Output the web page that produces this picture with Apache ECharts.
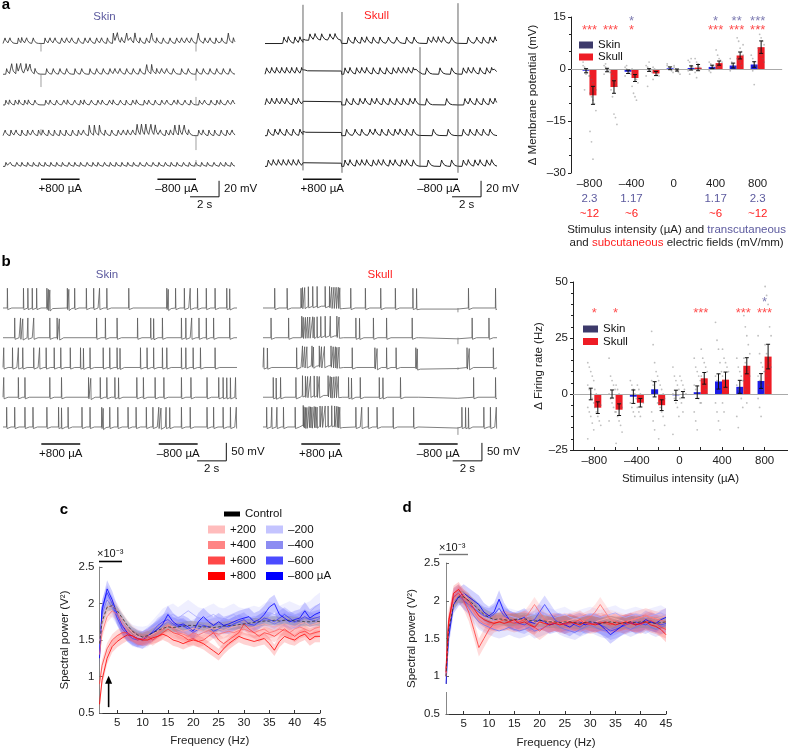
<!DOCTYPE html>
<html>
<head>
<meta charset="utf-8">
<script src="https://cdn.jsdelivr.net/npm/echarts@6.0.0/dist/echarts.min.js"></script>
<style>
html,body{margin:0;padding:0;background:#ffffff;}
#chart{width:788px;height:752px;}
</style>
</head>
<body>
<div id="chart"></div>
<script>
// ================= DATA =================
const STIM = [[2.62, 5.28], [10.65, 13.31]];            // s
const STIM_LABELS = ['+800 µA', '–800 µA'];

// Panel a: EPSP-like events (s) per row; [t, amp] for larger events
const A_SKIN_ROWS = [
  [0.14,0.48,1.06,1.29,1.63,2.09,2.9,3.24,3.59,4.05,4.39,4.74,5.2,5.66,6.0,6.46,6.8,7.2,[7.61,13],[7.89,13],8.18,[8.53,13],8.8,[9.1,13],9.45,9.9,[10.25,13],10.6,11.06,11.52,11.98,12.32,12.67,13.0,[13.47,13],13.93,14.28,14.69,15.08,[15.54,13],15.89],
  [0.25,[0.6,13],[0.94,13],[1.22,13],[1.59,13],[1.86,12],2.21,3.01,3.47,3.93,4.39,4.97,5.43,6.0,6.46,6.92,7.38,7.72,8.07,8.53,8.99,9.45,[9.91,12],[10.25,12],10.6,10.94,11.29,11.75,12.32,12.78,13.36,13.82,14.28,14.74,15.2,15.66],
  [0.2,0.45,0.85,1.1,1.5,1.75,2.2,2.95,3.25,3.7,4.2,4.45,4.95,5.35,5.6,6.1,6.55,6.85,7.35,7.6,8.1,8.5,8.95,9.2,9.75,10.05,10.5,10.95,11.3,11.8,12.05,12.55,12.95,13.55,13.9,14.35,14.75,15.0,15.5,15.85],
  [0.15,0.55,0.9,1.3,1.7,2.05,2.45,2.75,3.15,3.55,3.95,4.35,4.8,5.2,5.55,[5.95,13],[6.3,13],[6.65,13],7.05,7.5,7.95,8.3,8.6,8.95,[9.25,14],[9.55,14],[9.85,14],[10.2,14],[10.5,13],10.85,11.25,11.55,[11.85,13],[12.15,13],[12.5,13],12.8,13.5,13.8,14.2,14.6,15.05,15.45,15.8],
  [0.2,0.5,0.95,1.3,1.7,2.1,2.5,2.9,3.3,3.7,4.1,4.55,4.95,5.35,5.8,6.2,6.55,7.0,7.4,7.8,8.2,8.6,9.0,9.45,9.9,10.35,10.75,11.2,11.6,12.0,12.45,12.85,13.3,13.7,14.1,14.55,15.0,15.35,15.75]
];
const A_SKIN_AMP = [7, 7, 6, 7, 5];                      // mV
const A_SKIN_ARTIFACTS = [[0,2.62,-10],[0,13.31,-10],[1,2.62,-16],[1,13.31,-8],[2,13.31,10],[3,2.62,8],[3,13.31,-18],[4,13.31,8]];
const A_SKULL_ROWS = [
  [1.31,1.61,2.07,2.41,3.1,3.45,3.91,4.48,4.83,5.75,6.21,6.67,7.01,7.47,7.93,8.51,9.08,9.77,10.28,11.26,11.61,11.95,12.3,12.87,14.02,14.6,15.06,15.52,15.86],
  [0.11,0.46,0.8,1.15,1.49,1.84,2.18,2.53,5.52,5.86,6.32,6.67,7.01,7.47,7.93,8.39,8.85,9.2,9.54,9.89,10.23,10.46,11.15,12.07,12.87,13.68,14.02,14.37,14.83,15.29,15.63,15.86],
  [0.11,0.46,0.8,1.15,1.49,1.95,2.3,5.63,6.09,6.55,6.9,7.36,7.7,8.16,8.62,9.08,9.54,10.0,10.34,11.15,12.53,13.79,14.14,14.6,15.06,15.52,15.86],
  [0.23,0.69,1.03,1.49,1.95,2.41,5.63,6.21,6.67,7.24,7.59,8.05,8.51,8.97,9.31,9.77,10.23,11.61,12.64,13.68,14.14,14.6,15.06,15.52],
  [0.23,0.57,0.92,1.26,1.61,1.95,2.3,5.52,5.86,6.32,6.67,7.01,7.47,7.82,8.16,8.62,8.97,9.43,9.77,10.23,11.26,12.18,12.87,13.68,14.02,14.48,14.83,15.29,15.63]
];
const A_SKULL_AMP = 8;
const A_SKULL_SHIFT = [4, 0];                            // mV during +800 / –800
const A_SKULL_ARTIFACTS = [[2.62,-6,-213],[5.31,-15,-216],[10.69,-59,-209],[13.31,-4,-216]];

// Panel b: spike times (s) per row
const B_SKIN_SPIKES = [
  [0.3,1.4,1.7,2.0,2.3,3.0,3.1,3.2,4.4,4.5,4.9,5.7,6.2,6.6,7.1,8.6,11.2,11.3,11.8,12.4,12.8,13.3,13.9,14.5,15.3,15.5],
  [0.8,1.2,1.35,1.7,2.1,3.2,3.7,3.85,6.4,7.0,7.8,9.2,10.1,10.3,10.9,12.2,12.5,12.9,13.4,13.9,14.4,15.5],
  [0.05,0.65,1.05,1.35,2.1,2.5,2.95,3.5,3.95,4.6,5.3,5.5,5.95,6.85,7.3,7.8,8.0,9.4,9.85,10.3,10.9,11.2,12.2,12.5,13.0,13.5,14.5],
  [0.05,1.05,1.5,3.2,4.0,5.85,6.0,6.65,7.1,7.65,7.9,9.15,9.6,10.4,11.0,12.2,12.85,13.95,14.75,15.05,15.3,15.55,15.9],
  [0.25,0.8,1.5,2.05,3.0,3.8,4.0,4.45,5.4,5.95,6.75,6.85,7.3,7.85,8.55,9.1,9.8,10.25,10.65,10.8,11.15,11.4,12.2,12.8,13.95,14.4,15.05,15.55,15.95]
];
const B_SKULL_SPIKES = [
  [0.8,1.65,2.6,2.7,2.85,3.1,3.4,3.7,4.25,4.55,4.7,4.85,5.0,5.15,5.25,6.0,7.0,8.05,9.05,10.25,10.5,14.05,15.9],
  [0.55,1.75,2.65,2.75,2.9,3.05,3.2,3.4,3.5,3.7,3.95,4.25,4.6,5.05,5.2,6.35,6.6,7.55,8.45,10.2,14.3,15.45],
  [0.05,0.3,2.3,2.7,2.85,3.0,3.35,3.45,3.85,4.0,4.2,4.65,4.8,4.95,5.05,5.2,6.1,7.65,7.8,8.45,9.1,10.45,10.55,13.95,14.1,15.75],
  [0.7,0.9,1.2,2.25,2.7,2.9,3.05,3.25,3.5,3.7,3.85,4.45,4.6,4.7,4.85,5.0,5.15,5.85,6.05,6.65,7.95,8.2,9.4,14.4,15.9],
  [0.25,0.6,0.95,1.4,2.2,2.75,2.8,2.9,3.0,3.15,3.25,3.35,3.5,3.6,3.7,3.9,4.05,4.25,4.45,4.7,4.9,5.05,5.15,5.25,6.35,6.75,7.2,7.8,8.9,10.3,13.6,13.85,14.05,15.1,15.55,15.95]
];
const B_SPIKE_HEIGHT = 55;                               // mV
const B_SKULL_SHIFT = [5, -3];
const B_SKULL_ARTIFACTS = [[0,13.33,-12],[1,13.33,-18],[2,13.33,-6],[4,13.33,-22]];

// Bar charts
const CATS = [-800,-600,-400,-200,0,200,400,600,800];
const A_SKIN_MEAN  = [-0.5,-0.3,-0.8,-0.3,0.2,0.3,0.6,1.0,1.3];
const A_SKIN_ERR   = [0.6,0.5,0.5,0.4,0.4,0.6,0.5,0.7,0.8];
const A_SKULL_MEAN = [-7.6,-5.2,-2.6,-1.3,-0.3,0.4,1.7,3.9,6.3];
const A_SKULL_ERR  = [2.6,1.8,1.0,0.6,0.3,0.9,0.6,1.0,1.8];
const A_DOTS_SKIN = [[1,0.5,-0.5,-1,-2,2,-6,-1.5,0],[1,0.5,0,-0.5,-1,-1.5,1.5],[0.5,0,-0.5,-1,-1.5,-2,1],[1,0.5,0,-0.5,-1,-2,-5,2],[1,0.5,0,-0.5,-1,1.5],[2.5,2,1,0.5,0,-0.5,-1.5,3],[2,1.5,1,0.5,0,-0.5,-1],[3,2,1,0.5,0,-0.5,1.5],[4,3,2,1,0.5,0,-0.5,-4.5]];
const A_DOTS_SKULL = [[-2,-3,-4,-5,-6,-7,-8,-9,-10,-12,-18,-21,-26],[-1,-2,-3,-4,-5,-6,-8,-13,-14,-16],[0,-1,-2,-3,-4,-5,-7,-8,-9],[0.5,0,-1,-1.5,-2,-3,-0.5],[0.5,0,-0.5,-1,-1.5,1],[3,2,1,0.5,0,-1,-2.5,1.5],[5.5,4,3,2.5,2,1,0.5,0],[9,8,6,5,4,3,2.5,2,1,7],[12,10,9,8,7,6,5,4,3,2,0]];
const A_STARS_SKIN  = ['','','*','','','','*','**','***'];
const A_STARS_SKULL = ['***','***','*','','','','***','***','***'];
const FIELD_TICKS = [-800,-400,0,400,800];
const FIELD_TRANS = ['2.3','1.17','','1.17','2.3'];
const FIELD_SUB   = ['~12','~6','','~6','~12'];

const B_SKIN_MEAN  = [0,0,-1.2,2.1,-0.6,0.8,5.6,3.2,5.8];
const B_SKIN_ERR   = [2.6,1.8,3.0,3.4,2.3,2.8,3.4,2.9,3.3];
const B_SKULL_MEAN = [-6.1,-7.0,-3.9,-5.0,-0.3,7.0,6.4,12.6,16.7];
const B_SKULL_ERR  = [2.6,2.6,1.9,2.4,1.4,2.6,3.4,3.6,5.5];
const B_DOTS_SKIN = [[14,12,10,8,6,4,2,0,-2,-4,-6,-8,-10,-13,-16,-20],[16,8,6,4,2,0,-2,-4,-6,-8,-12],[6,4,2,0,-2,-4,-6,-8,-10],[28,22,14,10,8,6,4,2,0,-4,-8,-12,-16],[12,8,6,4,2,0,-2,-4,-6,-10,-18],[16,12,10,8,6,4,2,0,-2,-4,-8,-12,-16],[32,24,20,14,10,8,6,4,2,0,-4,-8,-12,-16],[16,12,10,8,6,4,2,0,-2,-6,-10,-15],[26,18,14,12,10,8,6,4,2,0,-2,-6,-10]];
const B_DOTS_SKULL = [[2,0,-2,-4,-5,-6,-8,-10,-12,-14],[4,2,0,-4,-6,-8,-10,-12,-14,-17,-22],[4,2,0,-2,-4,-6,-8,-10],[6,4,2,0,-2,-4,-6,-8,-10,-14,-20],[8,6,4,2,0,-2,-4,-8],[20,16,14,12,10,8,6,4,2,0,-4],[20,16,14,12,10,8,6,4,2,0,-4,-8],[35,30,26,22,18,16,14,12,10,8,6,2,-4],[48,44,40,30,26,22,18,16,14,12,10,8,4]];
const B_STARS_SKIN  = ['','','','','','','','','*'];
const B_STARS_SKULL = ['*','*','','','','***','','***','***'];
const B_TICKS = [-800,-400,0,400,800];

// Spectral power (×10^-3 V²)
const FREQ = [1.5,2,3,4,5,6,7,8,9,10,11,12,13,14,15,16,17,18,19,20,21,22,23,24,25,26,27,28,29,30,31,32,33,34,35,36,37,38,39,40,41,42,43,44,45];
const COND_NAMES = ['Control','+200','+400','+600','+800','–200','–400','–600','–800 µA'];
const C_CTRL = [1.45,1.75,1.95,1.97,1.9,1.8,1.7,1.62,1.57,1.54, 1.56,1.6,1.63,1.66,1.68,1.67,1.68,1.69,1.7,1.7, 1.69,1.68,1.68,1.67,1.68,1.69,1.7,1.7,1.71,1.72, 1.73,1.74,1.75,1.76,1.76,1.77,1.76,1.77,1.77,1.76, 1.76,1.75,1.75,1.76,1.75];
const C_P200 = [1.45,1.75,1.95,1.97,1.9,1.78,1.68,1.6,1.55,1.52, 1.55,1.58,1.62,1.66,1.7,1.68,1.65,1.62,1.64,1.66, 1.64,1.62,1.65,1.67,1.65,1.63,1.66,1.68,1.7,1.68, 1.66,1.68,1.7,1.72,1.7,1.68,1.7,1.72,1.7,1.68, 1.72,1.74,1.7,1.72,1.74];
const C_P400 = [1.3,1.6,1.82,1.9,1.85,1.72,1.62,1.55,1.52,1.5, 1.52,1.56,1.6,1.65,1.7,1.66,1.6,1.58,1.55,1.6, 1.57,1.6,1.63,1.6,1.58,1.6,1.62,1.6,1.63,1.65, 1.62,1.6,1.63,1.65,1.6,1.62,1.65,1.63,1.6,1.65, 1.68,1.65,1.62,1.66,1.68];
const C_P600 = [0.9,1.15,1.38,1.5,1.56,1.6,1.6,1.55,1.5,1.52, 1.55,1.5,1.55,1.6,1.65,1.6,1.58,1.55,1.5,1.52, 1.48,1.5,1.55,1.6,1.5,1.45,1.5,1.55,1.6,1.72, 1.65,1.6,1.55,1.6,1.58,1.55,1.6,1.65,1.6,1.55, 1.6,1.62,1.58,1.6,1.62];
const C_P800 = [0.62,0.95,1.25,1.41,1.48,1.53,1.57,1.56,1.52,1.5, 1.5,1.53,1.55,1.58,1.55,1.5,1.48,1.45,1.48,1.5, 1.48,1.45,1.4,1.35,1.3,1.38,1.45,1.5,1.55,1.52, 1.5,1.48,1.5,1.52,1.45,1.36,1.48,1.55,1.52,1.5, 1.55,1.58,1.5,1.55,1.55];
const C_M200 = [1.4,1.8,2.0,1.95,1.85,1.72,1.62,1.56,1.54,1.53, 1.55,1.62,1.7,1.78,1.82,1.85,1.8,1.85,1.9,1.85, 1.8,1.78,1.82,1.85,1.8,1.78,1.82,1.85,1.8,1.78, 1.8,1.82,1.8,1.85,1.88,1.85,1.82,1.85,1.88,1.85, 1.82,1.85,1.88,1.95,2.0];
const C_M400 = [1.35,1.85,2.05,1.95,1.8,1.68,1.6,1.55,1.52,1.52, 1.55,1.6,1.65,1.7,1.75,1.7,1.72,1.68,1.65,1.68, 1.72,1.7,1.68,1.7,1.72,1.7,1.68,1.72,1.75,1.72, 1.7,1.72,1.75,1.78,1.75,1.72,1.75,1.78,1.76,1.74, 1.76,1.8,1.78,1.76,1.8];
const C_M600 = [1.3,1.95,2.15,2.0,1.8,1.65,1.58,1.52,1.5,1.52, 1.55,1.62,1.7,1.75,1.78,1.72,1.68,1.7,1.65,1.6, 1.65,1.7,1.68,1.62,1.65,1.7,1.68,1.72,1.75,1.78, 1.72,1.7,1.75,1.8,1.78,1.75,1.8,1.85,1.8,1.75, 1.78,1.82,1.78,1.8,1.82];
const C_M800 = [1.25,1.9,2.2,2.05,1.85,1.7,1.6,1.55,1.52,1.5, 1.55,1.6,1.65,1.72,1.85,1.75,1.7,1.72,1.68,1.62, 1.75,1.82,1.75,1.7,1.75,1.7,1.72,1.75,1.78,1.8, 1.82,1.75,1.78,1.85,1.95,2.0,1.85,1.8,1.75,1.78, 1.8,1.9,1.8,1.85,1.88];
const C_SEM = [0.06,0.1,0.08,0.08,0.08,0.15,0.1,0.1,0.12];

const D_CTRL = [1.0,1.6,1.95,2.05,2.05,2.0,1.95,1.88,1.82,1.78, 1.75,1.76,1.75,1.74,1.75,1.76,1.76,1.74,1.73,1.74, 1.73,1.72,1.72,1.71,1.72,1.72,1.71,1.7,1.71,1.72, 1.71,1.7,1.71,1.72,1.71,1.7,1.71,1.72,1.71,1.72, 1.72,1.71,1.7,1.71,1.72];
const D_P200 = [1.0,1.65,2.0,2.1,2.1,2.0,1.9,1.82,1.78,1.75, 1.72,1.74,1.76,1.74,1.72,1.74,1.76,1.74,1.72,1.7, 1.72,1.74,1.72,1.7,1.72,1.74,1.76,1.74,1.72,1.7, 1.72,1.74,1.76,1.78,1.76,1.74,1.72,1.74,1.76,1.78, 1.8,1.78,1.76,1.78,1.8];
const D_P400 = [1.0,1.65,2.0,2.1,2.05,1.95,1.85,1.75,1.7,1.68, 1.72,1.75,1.78,1.75,1.72,1.74,1.76,1.85,1.95,1.85, 1.75,1.72,1.7,1.72,1.74,1.72,1.7,1.72,1.75,1.78, 1.85,1.95,1.85,1.75,1.72,1.7,1.72,1.74,1.76,1.78, 1.8,1.78,1.76,1.74,1.72];
const D_P600 = [1.1,1.75,2.05,2.1,2.0,1.85,1.62,1.38,1.5,1.62, 1.7,1.72,1.75,1.72,1.7,1.72,1.75,1.7,1.65,1.6, 1.65,1.7,1.72,1.7,1.68,1.7,1.72,1.75,1.7,1.68, 1.7,1.72,1.7,1.68,1.72,1.7,1.68,1.72,1.7,1.68, 1.72,1.74,1.7,1.65,1.62];
const D_P800 = [1.05,1.7,2.1,2.15,2.05,2.0,1.9,1.8,1.75,1.72, 1.7,1.72,1.7,1.72,1.75,1.7,1.72,1.68,1.65,1.72, 1.7,1.68,1.7,1.68,1.7,1.72,1.7,1.68,1.72,1.7, 1.68,1.7,1.72,1.7,1.68,1.7,1.72,1.7,1.68,1.7, 1.72,1.68,1.66,1.62,1.55];
const D_M200 = [1.1,1.7,2.05,2.1,2.05,2.0,1.92,1.85,1.8,1.76, 1.74,1.75,1.78,1.8,1.78,1.76,1.78,1.8,1.82,1.85, 1.82,1.8,1.78,1.8,1.82,1.78,1.76,1.78,1.8,1.82, 1.8,1.78,1.8,1.82,1.84,1.8,1.78,1.8,1.82,1.8, 1.78,1.8,1.82,1.84,1.8];
const D_M400 = [1.05,1.65,2.0,2.05,2.0,1.9,1.8,1.72,1.68,1.65, 1.62,1.6,1.62,1.65,1.62,1.6,1.62,1.65,1.6,1.62, 1.65,1.68,1.7,1.65,1.62,1.6,1.58,1.62,1.65,1.68, 1.65,1.62,1.6,1.62,1.65,1.68,1.65,1.62,1.65,1.68, 1.7,1.65,1.62,1.65,1.68];
const D_M600 = [1.0,1.6,2.05,2.1,2.0,1.95,1.9,1.85,1.8,1.78, 1.82,1.9,1.8,1.75,1.72,1.7,1.68,1.72,1.75,1.85, 1.95,1.85,1.75,1.7,1.68,1.72,1.68,1.65,1.7,1.72, 1.7,1.68,1.65,1.6,1.62,1.65,1.68,1.7,1.72,1.7, 1.68,1.72,1.7,1.68,1.7];
const D_M800 = [0.9,1.5,1.95,2.05,2.1,2.05,2.0,1.95,1.85,1.8, 1.85,2.02,1.85,1.75,1.72,1.75,1.78,1.72,1.7,1.75, 1.72,1.68,1.7,1.72,1.68,1.65,1.7,1.72,1.68,1.7, 1.72,1.68,1.62,1.55,1.6,1.65,1.7,1.72,1.68,1.7, 1.75,1.72,1.7,1.75,1.78];
const D_SEM = [0.08,0.1,0.1,0.12,0.1,0.1,0.1,0.12,0.12];
const ARROW_C = [[3.3, 0.58], [3.3, 1.01]];

// ================= STYLE / LAYOUT =================
const FONT = '"Liberation Sans", Arial, Helvetica, sans-serif';
const SKIN_BAR = '#1c1ce6', SKIN_DARK = '#3d3a6b', SKIN_TXT = '#5c5a9e', SKULL = '#ee1c25', RED_TXT = '#ff2020';
const COND_LINE = ['#333333','#ffa8a8','#ff7070','#ff3a3a','#ff0000','#a8a8ff','#7070ee','#3a3aff','#0000ff'];
const COND_BAND = ['#888888','#ffb8b8','#ff8a8a','#ff5a5a','#ff3030','#b8b8ff','#8a8af5','#5a5aff','#3030ff'];
const COND_LEG  = ['#000000','#ffbcbc','#ff8585','#ff4848','#ff0000','#c4c4ff','#8c8cf2','#4b4bff','#0000ff'];
const A_ROW0 = -54.4, A_ROW_GAP = 38.4;
const B_ROW0 = -189, B_ROW_GAP = 82.7;
const BAR_OFF = 33;

const GRIDS = [
  {left:3, top:0, width:232, height:210},
  {left:265, top:0, width:232, height:210},
  {left:571, top:17, width:217, height:156},
  {left:3, top:240, width:234, height:230},
  {left:263, top:240, width:234, height:230},
  {left:573, top:282, width:215, height:168},
  {left:99.5, top:567, width:220.5, height:146},
  {left:446, top:563, width:220, height:151}
];

// ================= HELPERS =================
const dash = v => (v < 0 ? '–' + Math.abs(v) : String(v));
function inStim(t, k) { return t >= STIM[k][0] && t <= STIM[k][1]; }
const skinKernel = d => (d < -0.06 || d > 0.6) ? 0 : d < 0 ? (d + 0.06) / 0.06 : Math.exp(-d / 0.09);
const SKIN_KNOTS = [-0.06, 0, 0.05, 0.11, 0.2, 0.35];
const skullKernel = d => (d < -0.09 || d > 0.7) ? 0 : d < 0 ? (d + 0.09) / 0.09 : Math.exp(-d / 0.12);
const SKULL_KNOTS = [-0.09, -0.04, 0, 0.05, 0.12, 0.22, 0.4];
const spikeKernel = d => (d < -0.012 || d > 0.3) ? 0 : d < 0 ? (d + 0.012) / 0.012 : d < 0.025 ? 1 - 1.08 * d / 0.025 : -0.08 * (1 - (d - 0.025) / 0.275);
const SPIKE_KNOTS = [-0.012, 0, 0.025, 0.3];

function buildTrace(events, defAmp, base, knotsOff, kernel, shift) {
  const ev = events.map(e => Array.isArray(e) ? e : [e, defAmp]);
  const knots = new Set([0, 16]);
  ev.forEach(([t]) => knotsOff.forEach(o => { const k = +(t + o).toFixed(4); if (k >= 0 && k <= 16) knots.add(k); }));
  if (shift) STIM.forEach(([s, e]) => [s - 0.002, s + 0.002, e - 0.002, e + 0.002].forEach(k => knots.add(k)));
  const ts = [...knots].sort((a, b) => a - b);
  return ts.map(t => {
    let y = base + (shift ? shift(t) : 0);
    ev.forEach(([ti, a]) => { y += a * kernel(t - ti); });
    return [t, y];
  });
}
function traceLine(gi, data, color, width) {
  return {type:'line', xAxisIndex:gi, yAxisIndex:gi, data, showSymbol:false, symbol:'none', silent:true,
          lineStyle:{color, width}, z:2, clip:false, animation:false};
}
function vsegSeries(gi, items, color, width) {
  return {type:'custom', xAxisIndex:gi, yAxisIndex:gi, silent:true, z:3, data: items,
    renderItem: (p, api) => {
      const a = api.coord([api.value(0), api.value(1)]), b = api.coord([api.value(0), api.value(2)]);
      return {type:'line', shape:{x1:a[0], y1:a[1], x2:b[0], y2:b[1]}, style:{stroke:color, lineWidth:width}};
    }};
}
function stimSeries(gi, y) {
  return {type:'custom', xAxisIndex:gi, yAxisIndex:gi, silent:true, z:3, data: STIM.map(s => [s[0], s[1]]),
    renderItem: (p, api) => {
      const a = api.coord([api.value(0), y]), b = api.coord([api.value(1), y]);
      return {type:'group', children:[
        {type:'line', shape:{x1:a[0], y1:a[1], x2:b[0], y2:b[1]}, style:{stroke:'#111', lineWidth:1.6}},
        {type:'text', x:(a[0] + b[0]) / 2, y:a[1] + 4, style:{text:STIM_LABELS[p.dataIndex], align:'center', verticalAlign:'top', fontSize:11.5, fontFamily:FONT, fill:'#111'}}
      ]};
    }};
}
function scaleSeries(gi, tx, y0, h, w, vLab, hLab) {
  return {type:'custom', xAxisIndex:gi, yAxisIndex:gi, silent:true, z:3, data:[[tx, y0]],
    renderItem: (p, api) => {
      const top = api.coord([tx, y0]), bot = api.coord([tx, y0 - h]), left = api.coord([tx - w, y0 - h]);
      return {type:'group', children:[
        {type:'line', shape:{x1:top[0], y1:top[1], x2:bot[0], y2:bot[1]}, style:{stroke:'#111', lineWidth:1}},
        {type:'line', shape:{x1:left[0], y1:bot[1], x2:bot[0], y2:bot[1]}, style:{stroke:'#111', lineWidth:1}},
        {type:'text', x:top[0] + 5, y:(top[1] + bot[1]) / 2, style:{text:vLab, align:'left', verticalAlign:'middle', fontSize:11.5, fontFamily:FONT, fill:'#111'}},
        {type:'text', x:(left[0] + bot[0]) / 2, y:bot[1] + 2, style:{text:hLab, align:'center', verticalAlign:'top', fontSize:11.5, fontFamily:FONT, fill:'#111'}}
      ]};
    }};
}
function errSeries(gi, xs, means, errs) {
  return {type:'custom', xAxisIndex:gi, yAxisIndex:gi, silent:true, z:5,
    data: xs.map((x, i) => [x, means[i] - errs[i], means[i] + errs[i]]),
    renderItem: (p, api) => {
      const lo = api.coord([api.value(0), api.value(1)]), hi = api.coord([api.value(0), api.value(2)]);
      const st = {stroke:'#111', lineWidth:1};
      return {type:'group', children:[
        {type:'line', shape:{x1:lo[0], y1:lo[1], x2:hi[0], y2:hi[1]}, style:st},
        {type:'line', shape:{x1:lo[0] - 2, y1:lo[1], x2:lo[0] + 2, y2:lo[1]}, style:st},
        {type:'line', shape:{x1:hi[0] - 2, y1:hi[1], x2:hi[0] + 2, y2:hi[1]}, style:st}
      ]};
    }};
}
function dotsSeries(gi, dots, side) {
  const data = [];
  dots.forEach((arr, i) => arr.forEach((v, j) => data.push([CATS[i] + side * BAR_OFF + ((j % 5) - 2) * 14, v])));
  return {type:'scatter', xAxisIndex:gi, yAxisIndex:gi, data, symbolSize:1.8, silent:true, z:4,
          itemStyle:{color:'rgba(110,110,110,0.55)'}};
}
function starSeries(gi, stars, y, color) {
  const data = [];
  stars.forEach((s, i) => { if (s) data.push({value:[CATS[i], y], name:s}); });
  return {type:'scatter', xAxisIndex:gi, yAxisIndex:gi, data, symbolSize:0, silent:true, z:6,
          label:{show:true, position:'inside', formatter:'{b}', color, fontSize:13, fontFamily:FONT}};
}
function bandSeries(gi, vals, sem, color, opacity) {
  return {type:'custom', xAxisIndex:gi, yAxisIndex:gi, silent:true, z:1,
    data: FREQ.map((f, i) => [f, vals[i]]),
    renderItem: (p, api) => {
      if (p.dataIndex !== 0) return null;
      const up = FREQ.map((f, i) => api.coord([f, vals[i] + sem]));
      const lo = FREQ.map((f, i) => api.coord([f, vals[i] - sem])).reverse();
      return {type:'polygon', shape:{points: up.concat(lo)}, style:{fill:color, opacity}};
    }};
}
function arrowSeries(gi, pts) {
  return {type:'custom', xAxisIndex:gi, yAxisIndex:gi, silent:true, z:6, data: pts,
    renderItem: (p, api) => {
      if (p.dataIndex !== 0) return null;
      const a = api.coord(pts[0]), b = api.coord(pts[1]);
      return {type:'group', children:[
        {type:'line', shape:{x1:a[0], y1:a[1], x2:b[0], y2:b[1] + 6}, style:{stroke:'#000', lineWidth:1.6}},
        {type:'polygon', shape:{points:[[b[0], b[1]], [b[0] - 3.5, b[1] + 8], [b[0] + 3.5, b[1] + 8]]}, style:{fill:'#000'}}
      ]};
    }};
}

// ================= SERIES =================
const series = [];
// Panel a traces
A_SKIN_ROWS.forEach((row, r) => series.push(traceLine(0, buildTrace(row, A_SKIN_AMP[r], A_ROW0 - r * A_ROW_GAP, SKIN_KNOTS, skinKernel, null), '#333', 0.85)));
series.push(vsegSeries(0, A_SKIN_ARTIFACTS.map(([r, t, a]) => [t, A_ROW0 - r * A_ROW_GAP, A_ROW0 - r * A_ROW_GAP + a]), '#888', 0.8));
const aShift = t => inStim(t, 0) ? A_SKULL_SHIFT[0] : inStim(t, 1) ? A_SKULL_SHIFT[1] : 0;
A_SKULL_ROWS.forEach((row, r) => series.push(traceLine(1, buildTrace(row, A_SKULL_AMP, A_ROW0 - r * A_ROW_GAP, SKULL_KNOTS, skullKernel, aShift), '#222', 1)));
series.push(vsegSeries(1, A_SKULL_ARTIFACTS, '#555', 0.9));
series.push(stimSeries(0, -224), stimSeries(1, -224));
series.push(scaleSeries(0, 14.9, -226, 20, 2, '20 mV', '2 s'), scaleSeries(1, 14.9, -226, 20, 2, '20 mV', '2 s'));

// Panel b traces
B_SKIN_SPIKES.forEach((row, r) => series.push(traceLine(3, buildTrace(row, B_SPIKE_HEIGHT, B_ROW0 - r * B_ROW_GAP, SPIKE_KNOTS, spikeKernel, null), '#555', 0.75)));
const bShift = t => inStim(t, 0) ? B_SKULL_SHIFT[0] : inStim(t, 1) ? B_SKULL_SHIFT[1] : 0;
B_SKULL_SPIKES.forEach((row, r) => series.push(traceLine(4, buildTrace(row, B_SPIKE_HEIGHT, B_ROW0 - r * B_ROW_GAP, SPIKE_KNOTS, spikeKernel, bShift), '#555', 0.75)));
series.push(vsegSeries(4, B_SKULL_ARTIFACTS.map(([r, t, a]) => [t, B_ROW0 - r * B_ROW_GAP, B_ROW0 - r * B_ROW_GAP + a]), '#777', 0.8));
series.push(stimSeries(3, -567), stimSeries(4, -567));
series.push(scaleSeries(3, 15.27, -564, 50, 2, '50 mV', '2 s'), scaleSeries(4, 14.97, -564, 50, 2, '50 mV', '2 s'));

// Bar charts
const zeroLine = {silent:true, symbol:'none', label:{show:false}, lineStyle:{color:'#aaa', width:1, type:'solid'}, data:[{yAxis:0}]};
[[2, A_SKIN_MEAN, A_SKIN_ERR, A_SKULL_MEAN, A_SKULL_ERR, A_DOTS_SKIN, A_DOTS_SKULL],
 [5, B_SKIN_MEAN, B_SKIN_ERR, B_SKULL_MEAN, B_SKULL_ERR, B_DOTS_SKIN, B_DOTS_SKULL]].forEach(([gi, sm, se, km, ke, ds, dk]) => {
  series.push({type:'bar', name:'Skin', xAxisIndex:gi, yAxisIndex:gi, data: CATS.map((c, i) => [c - BAR_OFF, sm[i]]),
               barWidth:7, barGap:'-100%', itemStyle:{color:SKIN_BAR}, silent:true, z:2, markLine: zeroLine});
  series.push({type:'bar', name:'Skull', xAxisIndex:gi, yAxisIndex:gi, data: CATS.map((c, i) => [c + BAR_OFF, km[i]]),
               barWidth:7, barGap:'-100%', itemStyle:{color:SKULL}, silent:true, z:2});
  series.push(dotsSeries(gi, ds, -1), dotsSeries(gi, dk, 1));
  series.push(errSeries(gi, CATS.map(c => c - BAR_OFF), sm, se), errSeries(gi, CATS.map(c => c + BAR_OFF), km, ke));
});
series.push(starSeries(2, A_STARS_SKIN, 13.6, SKIN_TXT), starSeries(2, A_STARS_SKULL, 11.0, RED_TXT));
series.push(starSeries(5, B_STARS_SKIN, 41, SKIN_TXT), starSeries(5, B_STARS_SKULL, 36, RED_TXT));

// Spectral panels
const C_SETS = [C_CTRL, C_P200, C_P400, C_P600, C_P800, C_M200, C_M400, C_M600, C_M800];
const D_SETS = [D_CTRL, D_P200, D_P400, D_P600, D_P800, D_M200, D_M400, D_M600, D_M800];
[[6, C_SETS, C_SEM], [7, D_SETS, D_SEM]].forEach(([gi, sets, sem]) => {
  const order = [5, 6, 7, 8, 1, 2, 3, 4, 0];
  order.forEach(k => series.push(bandSeries(gi, sets[k], sem[k], COND_BAND[k], k === 0 ? 0.35 : 0.22)));
  order.forEach(k => series.push({type:'line', name:COND_NAMES[k], xAxisIndex:gi, yAxisIndex:gi, color:COND_LINE[k],
    data: FREQ.map((f, i) => [f, sets[k][i]]), showSymbol:false, symbol:'none', silent:true, z: k === 0 ? 4 : 3,
    lineStyle:{color:COND_LINE[k], width:0.9, opacity:0.9, type: k === 0 ? [3, 2] : 'solid'}}));
});
series.push(arrowSeries(6, ARROW_C));

// ================= AXES =================
const axisTxt = {fontSize:11.5, color:'#222', fontFamily:FONT};
const xAxis = [
  {gridIndex:0, type:'value', min:0, max:16, show:false},
  {gridIndex:1, type:'value', min:0, max:16, show:false},
  {gridIndex:2, type:'value', min:-976, max:1033, axisLine:{show:false, onZero:false}, axisTick:{show:false}, splitLine:{show:false},
   axisLabel:{customValues:FIELD_TICKS, margin:3, ...axisTxt,
     formatter: v => { const i = FIELD_TICKS.indexOf(v); return FIELD_TRANS[i] ? `{k|${dash(v)}}\n{p|${FIELD_TRANS[i]}}\n{r|${FIELD_SUB[i]}}` : `{k|${dash(v)}}`; },
     rich:{k:{fontSize:11.5, color:'#222', lineHeight:15, fontFamily:FONT}, p:{fontSize:11.5, color:SKIN_TXT, lineHeight:15, fontFamily:FONT}, r:{fontSize:11.5, color:RED_TXT, lineHeight:15, fontFamily:FONT}}},
   name:'{n|Stimulus intensity (µA) and }{p|transcutaneous}\n{n|and }{r|subcutaneous}{n| electric fields (mV/mm)}',
   nameLocation:'middle', nameGap:50,
   nameTextStyle:{rich:{n:{fontSize:11.5, color:'#222', lineHeight:13, fontFamily:FONT}, p:{fontSize:11.5, color:SKIN_TXT, lineHeight:13, fontFamily:FONT}, r:{fontSize:11.5, color:RED_TXT, lineHeight:13, fontFamily:FONT}}}},
  {gridIndex:3, type:'value', min:0, max:16, show:false},
  {gridIndex:4, type:'value', min:0, max:16, show:false},
  {gridIndex:5, type:'value', min:-1000, max:1020, axisLine:{show:true, onZero:false, lineStyle:{color:'#222'}},
   axisTick:{show:true, inside:true, length:3, customValues:CATS, lineStyle:{color:'#222'}}, splitLine:{show:false},
   axisLabel:{customValues:B_TICKS, formatter:dash, margin:5, ...axisTxt},
   name:'Stimuilus intensity (µA)', nameLocation:'middle', nameGap:23, nameTextStyle:axisTxt},
  {gridIndex:6, type:'value', min:1.5, max:45, axisLine:{onZero:false, lineStyle:{color:'#333'}},
   axisTick:{inside:true, length:3, customValues:[5,10,15,20,25,30,35,40,45], lineStyle:{color:'#333'}}, splitLine:{show:false},
   axisLabel:{customValues:[5,10,15,20,25,30,35,40,45], margin:4, ...axisTxt},
   name:'Frequency (Hz)', nameLocation:'middle', nameGap:22, nameTextStyle:axisTxt},
  {gridIndex:7, type:'value', min:1.5, max:45, axisLine:{onZero:false, lineStyle:{color:'#333'}},
   axisTick:{inside:true, length:3, customValues:[5,10,15,20,25,30,35,40,45], lineStyle:{color:'#333'}}, splitLine:{show:false},
   axisLabel:{customValues:[5,10,15,20,25,30,35,40,45], margin:4, ...axisTxt},
   name:'Frequency (Hz)', nameLocation:'middle', nameGap:23, nameTextStyle:axisTxt}
];
const yAxis = [
  {gridIndex:0, type:'value', min:-262.5, max:0, show:false},
  {gridIndex:1, type:'value', min:-262.5, max:0, show:false},
  {gridIndex:2, type:'value', min:-30, max:15, interval:15, axisLine:{show:true, onZero:false, lineStyle:{color:'#222'}},
   axisTick:{show:true, length:3, lineStyle:{color:'#222'}}, minorTick:{show:true, splitNumber:3, length:2, lineStyle:{color:'#222'}},
   splitLine:{show:false}, axisLabel:{formatter:dash, margin:5, ...axisTxt},
   name:'Δ Membrane potential (mV)', nameLocation:'middle', nameGap:32, nameRotate:90, nameTextStyle:axisTxt},
  {gridIndex:3, type:'value', min:-639.4, max:0, show:false},
  {gridIndex:4, type:'value', min:-639.4, max:0, show:false},
  {gridIndex:5, type:'value', min:-25, max:50, interval:25, axisLine:{show:true, onZero:false, lineStyle:{color:'#222'}},
   axisTick:{show:true, length:3, lineStyle:{color:'#222'}}, minorTick:{show:true, splitNumber:5, length:2, lineStyle:{color:'#222'}},
   splitLine:{show:false}, axisLabel:{formatter:dash, margin:5, ...axisTxt},
   name:'Δ Firing rate (Hz)', nameLocation:'middle', nameGap:26, nameRotate:90, nameTextStyle:axisTxt},
  {gridIndex:6, type:'value', min:0.5, max:2.5, interval:0.5, axisLine:{show:true, onZero:false, lineStyle:{color:'#888'}},
   axisTick:{show:true, inside:true, length:3, lineStyle:{color:'#666'}}, splitLine:{show:false},
   axisLabel:{margin:5, ...axisTxt}, name:'Spectral power (V²)', nameLocation:'middle', nameGap:29, nameRotate:90, nameTextStyle:axisTxt},
  {gridIndex:7, type:'value', min:0.5, max:2.5, interval:0.5, axisLine:{show:true, onZero:false, lineStyle:{color:'#888'}},
   axisTick:{show:true, inside:true, length:3, lineStyle:{color:'#666'}}, splitLine:{show:false},
   axisLabel:{margin:6, ...axisTxt}, name:'Spectral power (V²)', nameLocation:'middle', nameGap:28, nameRotate:90, nameTextStyle:axisTxt}
];

// ================= LEGENDS =================
const legTxt = {fontSize:11.5, color:'#111', fontFamily:FONT, lineHeight:12};
const legend = [
  {left:574, top:34, orient:'vertical', itemWidth:14, itemHeight:7, itemGap:0, selectedMode:false, textStyle:legTxt, icon:'rect',
   data:[{name:'Skin', itemStyle:{color:SKIN_DARK}}, {name:'Skull', itemStyle:{color:SKULL}}]},
  {left:578, top:318, orient:'vertical', itemWidth:15, itemHeight:7, itemGap:0.5, selectedMode:false, textStyle:legTxt, icon:'rect',
   data:[{name:'Skin', itemStyle:{color:SKIN_DARK}}, {name:'Skull', itemStyle:{color:SKULL}}]},
  {left:219, top:503, orient:'vertical', itemWidth:16, itemHeight:5, selectedMode:false, textStyle:legTxt, icon:'rect',
   data:[{name:'Control', itemStyle:{color:COND_LEG[0]}}]},
  {left:203, top:518.5, orient:'vertical', itemWidth:17, itemHeight:8, itemGap:3.5, selectedMode:false, textStyle:legTxt, icon:'rect',
   data:[1, 2, 3, 4].map(k => ({name:COND_NAMES[k], itemStyle:{color:COND_LEG[k]}}))},
  {left:261, top:518.5, orient:'vertical', itemWidth:17, itemHeight:8, itemGap:3.5, selectedMode:false, textStyle:legTxt, icon:'rect',
   data:[5, 6, 7, 8].map(k => ({name:COND_NAMES[k], itemStyle:{color:COND_LEG[k]}}))}
];

// ================= TEXT DECORATIONS =================
const T = (x, y, text, opts) => ({type:'text', x, y, silent:true, z:50,
  style:Object.assign({text, fontSize:11.5, fontFamily:FONT, fill:'#111', align:'center', verticalAlign:'middle'}, opts || {})});
const graphic = [
  T(6, 5, 'a', {fontSize:15, fontWeight:'bold', fill:'#000'}),
  T(6, 262, 'b', {fontSize:15, fontWeight:'bold', fill:'#000'}),
  T(64, 510, 'c', {fontSize:15, fontWeight:'bold', fill:'#000'}),
  T(407, 508, 'd', {fontSize:15, fontWeight:'bold', fill:'#000'}),
  T(104.5, 16.5, 'Skin', {fill:SKIN_TXT}),
  T(376.5, 16, 'Skull', {fill:RED_TXT}),
  T(107, 274.5, 'Skin', {fill:SKIN_TXT}),
  T(380, 274.5, 'Skull', {fill:RED_TXT}),
  T(97, 554, '×10⁻³', {align:'left', fontSize:11}),
  {type:'line', silent:true, z:50, shape:{x1:99, y1:561.5, x2:122, y2:561.5}, style:{stroke:'#000', lineWidth:1.6}},
  T(439, 548, '×10⁻³', {align:'left', fontSize:11}),
  {type:'line', silent:true, z:50, shape:{x1:439, y1:554.5, x2:468, y2:554.5}, style:{stroke:'#777', lineWidth:1.4}},
  {type:'rect', silent:true, z:50, shape:{x:443, y:684, width:6, height:8}, style:{fill:'#fff'}}
];

const chart = echarts.init(document.getElementById('chart'), null, {renderer:'canvas', width:788, height:752});
chart.setOption({animation:false, backgroundColor:'#fff', textStyle:{fontFamily:FONT}, grid:GRIDS, xAxis, yAxis, legend, graphic, series});
</script>
</body>
</html>
